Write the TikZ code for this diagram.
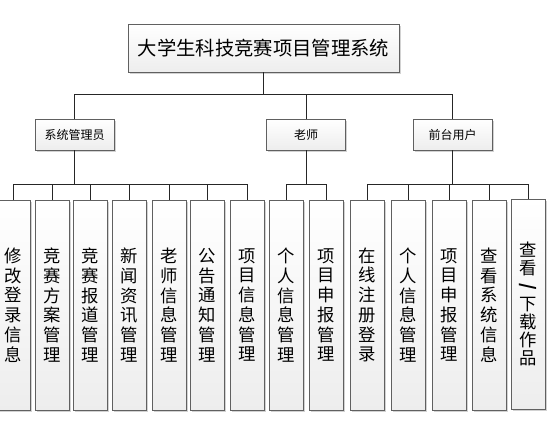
\documentclass[tikz,border=0pt]{standalone}
\usepackage{fontspec}
\setmainfont{Noto Sans CJK SC}
\usetikzlibrary{shadows}
\tikzset{
  boxbase/.style={draw=gray!75!black, line width=0.6pt, top color=white, bottom color=gray!14,
    drop shadow={shadow xshift=1.2pt, shadow yshift=-1.2pt, opacity=0.35, fill=gray}, inner sep=0pt},
  titlebox/.style={boxbase, minimum width=203.25pt, minimum height=36pt,
    font=\fontsize{14.5pt}{16pt}\selectfont},
  midbox/.style={boxbase, minimum width=59.25pt, minimum height=23.25pt,
    font=\fontsize{9pt}{10pt}\selectfont},
  leafbox/.style={boxbase, minimum width=25.5pt, minimum height=157.5pt, align=center,
    font=\fontsize{13pt}{14.8pt}\selectfont},
  conn/.style={draw=black!85, line width=0.6pt}
}
\begin{document}
\begin{tikzpicture}[x=0.75pt,y=-0.75pt]
\useasboundingbox (0,0) rectangle (556,432);
\clip (0,0) rectangle (556,432);
\fill[white] (0,0) rectangle (556,432);
\node[titlebox] (title) at (263.5,48) {大学生科技竞赛项目管理系统};
\node[midbox] (admin) at (74.5,134.5) {系统管理员};
\node[midbox] (teacher) at (306,134.5) {老师};
\node[midbox] (user) at (452.5,134.5) {前台用户};
\coordinate (bus1) at (0,94);
\coordinate (bus2) at (0,184);
\node[leafbox] (l1) at (13,305) {修\\改\\登\\录\\信\\息};
\node[leafbox] (l2) at (52,305) {竞\\赛\\方\\案\\管\\理};
\node[leafbox] (l3) at (90,305) {竞\\赛\\报\\道\\管\\理};
\node[leafbox] (l4) at (129.5,305) {新\\闻\\资\\讯\\管\\理};
\node[leafbox] (l5) at (169,305) {老\\师\\信\\息\\管\\理};
\node[leafbox] (l6) at (207.5,305) {公\\告\\通\\知\\管\\理};
\node[leafbox] (l7) at (247,305) {项\\目\\信\\息\\管\\理};
\node[leafbox] (l8) at (286,305) {个\\人\\信\\息\\管\\理};
\node[leafbox] (l9) at (326,305) {项\\目\\申\\报\\管\\理};
\node[leafbox] (l10) at (367,305) {在\\线\\注\\册\\登\\录};
\node[leafbox] (l11) at (408,305) {个\\人\\信\\息\\管\\理};
\node[leafbox] (l12) at (449,305) {项\\目\\申\\报\\管\\理};
\node[leafbox] (l13) at (489,305) {查\\看\\系\\统\\信\\息};
\node[leafbox, font=\fontsize{13pt}{13.6pt}\selectfont] (l14) at (528,304)
  {查\\看\\\rotatebox[origin=c]{-90}{\textbf{/}}\\下\\载\\作\\品};
% top level
\draw[conn] (title.south) -- (title.south |- bus1);
\draw[conn] (admin.north) -- (admin.north |- bus1) -- (user.north |- bus1) -- (user.north);
\draw[conn] (teacher.north) -- (teacher.north |- bus1);
% admin
\draw[conn] (admin.south) -- (admin.south |- bus2);
\draw[conn] (l1.north) -- (l1.north |- bus2) -- (l7.north |- bus2) -- (l7.north);
\foreach \i in {2,...,6} {\draw[conn] (l\i.north) -- (l\i.north |- bus2);}
% teacher
\draw[conn] (teacher.south) -- (teacher.south |- bus2);
\draw[conn] (l8.north) -- (l8.north |- bus2) -- (l9.north |- bus2) -- (l9.north);
% user
\draw[conn] (user.south) -- (user.south |- bus2);
\draw[conn] (l10.north) -- (l10.north |- bus2) -- (l14.north |- bus2) -- (l14.north);
\foreach \i in {11,12,13} {\draw[conn] (l\i.north) -- (l\i.north |- bus2);}
\end{tikzpicture}
\end{document}
